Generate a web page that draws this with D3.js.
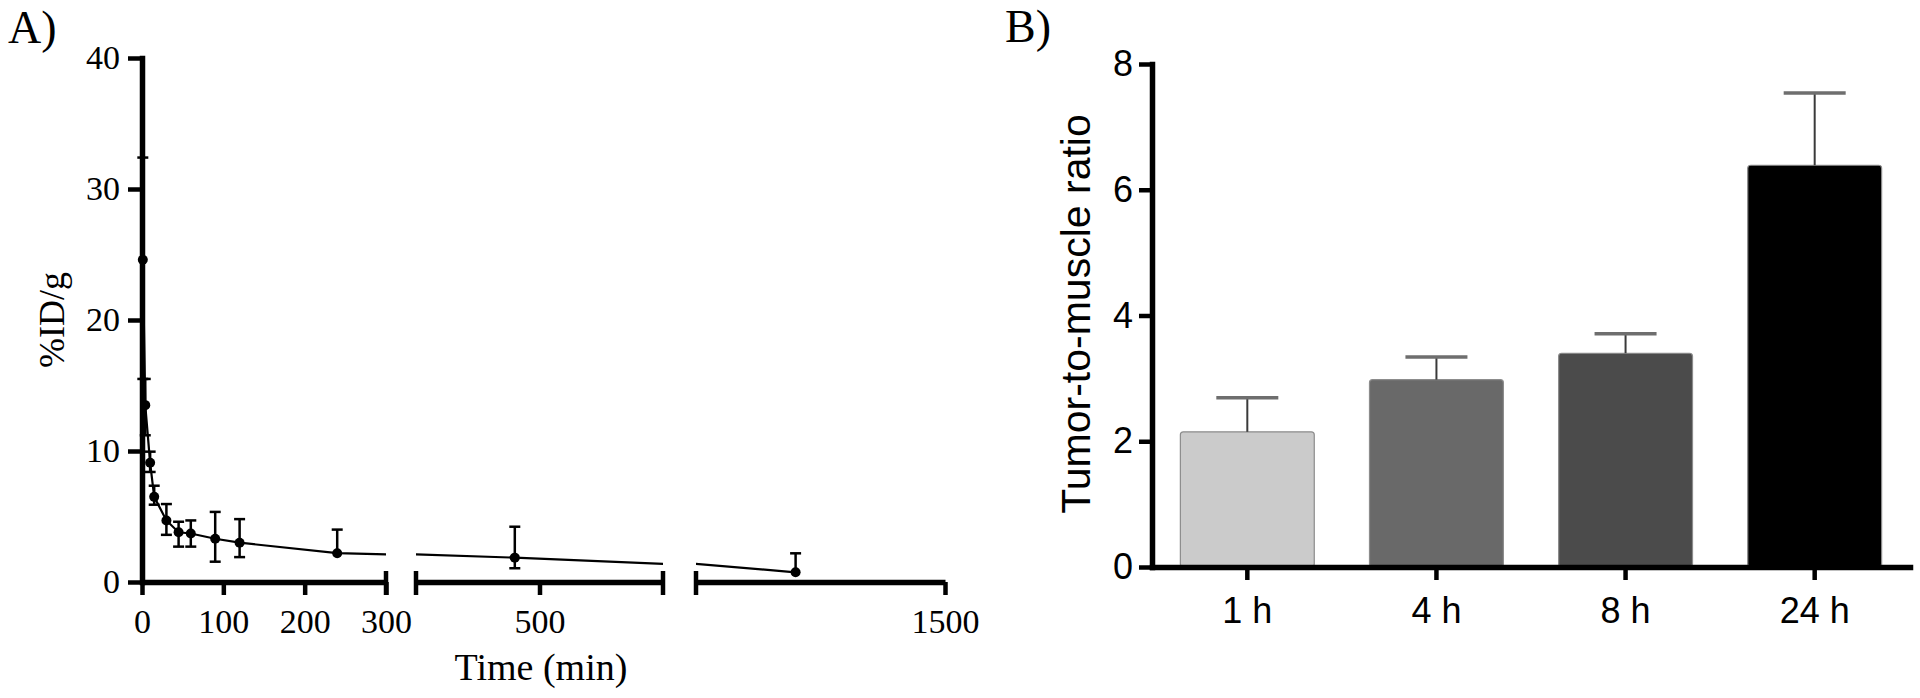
<!DOCTYPE html>
<html>
<head>
<meta charset="utf-8">
<script src="https://cdn.jsdelivr.net/npm/d3@7"></script>
<style>
  body { margin: 0; background: #fff; }
</style>
</head>
<body>
<svg id="chart" width="1920" height="698"></svg>
<script>
// A) blood activity over time
const timeMin = [1, 4, 10, 15, 30, 45, 60, 90, 120, 240, 460, 1020];
const idPerG = [24.6, 13.5, 9.1, 6.5, 4.7, 3.8, 3.7, 3.3, 3.0, 2.2, 1.86, 0.74];
const errUp = [7.8, 2.0, 0.85, 0.85, 1.25, 0.8, 1.0, 2.05, 1.8, 1.8, 2.36, 1.45];
const errDown = [9.1, 2.3, 0.7, 0.6, 1.1, 1.1, 1.0, 1.75, 1.1, 0, 0.81, 0];
const timeSegments = [[0, 300], [300, 700], [700, 1500]];
const timeTicks = [[0, 100, 200, 300], [500], [1500]];
const idTicks = [0, 10, 20, 30, 40];

// B) tumor-to-muscle ratio
const groups = ["1 h", "4 h", "8 h", "24 h"];
const ratio = [2.15, 2.98, 3.40, 6.39];
const ratioErr = [0.54, 0.36, 0.31, 1.15];
const ratioTicks = [0, 2, 4, 6, 8];

const svg = d3.select("#chart");
const serif = "'Liberation Serif', 'Times New Roman', serif";
const sans = "'Liberation Sans', Arial, sans-serif";

// style a d3 axis like the GraphPad thick axes
function thickAxis(g, font, size) {
  g.attr("font-family", font).attr("font-size", size);
  g.select(".domain").attr("stroke", "#000").attr("stroke-width", 5.5).attr("stroke-linecap", "square");
  g.selectAll(".tick line").attr("stroke", "#000").attr("stroke-width", 4.5);
  g.selectAll(".tick text").attr("fill", "#000");
}

/* ---------- panel A ---------- */
const a = svg.append("g");
const yA = d3.scaleLinear().domain([0, 40]).range([582, 58]);
const segRanges = [[142, 386], [416, 663], [696, 945]];
const xSegs = timeSegments.map((d, i) => d3.scaleLinear().domain(d).range(segRanges[i]));

const data = timeMin.map((t, i) => ({ t: t, v: idPerG[i], up: errUp[i], dn: errDown[i] }));

// which segment does a time fall in
function segOf(t) {
  for (let i = 0; i < timeSegments.length; i++) {
    if (t >= timeSegments[i][0] && t <= timeSegments[i][1]) return i;
  }
  return timeSegments.length - 1;
}

// line, drawn once per segment and clipped to it
xSegs.forEach(function (x, i) {
  const id = "clipA" + i;
  svg.append("clipPath").attr("id", id)
    .append("rect")
    .attr("x", segRanges[i][0]).attr("y", 0)
    .attr("width", segRanges[i][1] - segRanges[i][0]).attr("height", 698);
  a.append("path")
    .datum(data)
    .attr("clip-path", "url(#" + id + ")")
    .attr("fill", "none")
    .attr("stroke", "#000")
    .attr("stroke-width", 2.2)
    .attr("d", d3.line().x(d => x(d.t)).y(d => yA(d.v)));
});

// error bars (lower half left out where the picture shows none)
const eb = a.append("g").attr("stroke", "#000").attr("stroke-width", 2.5);
data.forEach(function (d) {
  const x = xSegs[segOf(d.t)](d.t);
  const hi = yA(d.v + d.up);
  const lo = yA(Math.max(0, d.v - d.dn));
  eb.append("line").attr("x1", x).attr("x2", x).attr("y1", hi).attr("y2", lo);
  eb.append("line").attr("x1", x - 5.5).attr("x2", x + 5.5).attr("y1", hi).attr("y2", hi);
  if (d.dn > 0) {
    eb.append("line").attr("x1", x - 5.5).attr("x2", x + 5.5).attr("y1", lo).attr("y2", lo);
  }
});

// points
a.append("g")
  .selectAll("circle")
  .data(data)
  .enter()
  .append("circle")
  .attr("cx", d => xSegs[segOf(d.t)](d.t))
  .attr("cy", d => yA(d.v))
  .attr("r", 5)
  .attr("fill", "#000");

// y axis
a.append("g")
  .attr("transform", "translate(142,0)")
  .call(d3.axisLeft(yA).tickValues(idTicks).tickSize(14).tickSizeOuter(0).tickPadding(8))
  .call(g => thickAxis(g, serif, 34));

// broken x axis
xSegs.forEach(function (x, i) {
  const g = a.append("g")
    .attr("transform", "translate(0,582)")
    .call(d3.axisBottom(x).tickValues(timeTicks[i]).tickFormat(d3.format("d"))
      .tickSize(13).tickSizeOuter(0).tickPadding(14))
    .call(g => thickAxis(g, serif, 34));
  g.select(".domain").attr("stroke-linecap", "butt");
  const ends = [];
  if (i > 0) ends.push(segRanges[i][0]);
  if (i < xSegs.length - 1) ends.push(segRanges[i][1]);
  ends.forEach(function (ex) {
    g.append("line").attr("x1", ex).attr("x2", ex).attr("y1", -11).attr("y2", 13)
      .attr("stroke", "#000").attr("stroke-width", 4.5);
  });
});

a.append("text")
  .attr("transform", "translate(64,320) rotate(-90)")
  .attr("text-anchor", "middle")
  .attr("font-family", serif).attr("font-size", 36)
  .text("%ID/g");

a.append("text")
  .attr("x", 541).attr("y", 680)
  .attr("text-anchor", "middle")
  .attr("font-family", serif).attr("font-size", 38)
  .text("Time (min)");

a.append("text")
  .attr("x", 8).attr("y", 43)
  .attr("font-family", serif).attr("font-size", 46)
  .text("A)");

/* ---------- panel B ---------- */
const b = svg.append("g");
const yB = d3.scaleLinear().domain([0, 8]).range([567, 64]);
const xB = d3.scaleBand().domain(groups).range([1152, 1910]).paddingInner(0.292).paddingOuter(0.15);
const fillB = d3.scaleOrdinal().domain(groups).range(["#cbcbcb", "#696969", "#4b4b4b", "#000000"]);

b.append("g")
  .selectAll("rect")
  .data(groups)
  .enter()
  .append("rect")
  .attr("x", d => xB(d))
  .attr("y", (d, i) => yB(ratio[i]))
  .attr("width", xB.bandwidth())
  .attr("height", (d, i) => yB(0) - yB(ratio[i]))
  .attr("rx", 3)
  .attr("fill", d => fillB(d))
  .attr("stroke", "#8c8c8c")
  .attr("stroke-width", 1.2);

// upper error bars only
groups.forEach(function (g, i) {
  const cx = xB(g) + xB.bandwidth() / 2;
  b.append("line")
    .attr("x1", cx).attr("x2", cx)
    .attr("y1", yB(ratio[i])).attr("y2", yB(ratio[i] + ratioErr[i]))
    .attr("stroke", "#3a3a3a").attr("stroke-width", 2);
  b.append("line")
    .attr("x1", cx - 31).attr("x2", cx + 31)
    .attr("y1", yB(ratio[i] + ratioErr[i])).attr("y2", yB(ratio[i] + ratioErr[i]))
    .attr("stroke", "#6e6e6e").attr("stroke-width", 3.5);
});

b.append("g")
  .attr("transform", "translate(1152,0)")
  .call(d3.axisLeft(yB).tickValues(ratioTicks).tickSize(13).tickSizeOuter(0).tickPadding(6))
  .call(g => thickAxis(g, sans, 36));

b.append("g")
  .attr("transform", "translate(0,567)")
  .call(d3.axisBottom(xB).tickSize(13).tickSizeOuter(0).tickPadding(17))
  .call(g => thickAxis(g, sans, 36));

b.append("text")
  .attr("transform", "translate(1090,314) rotate(-90)")
  .attr("text-anchor", "middle")
  .attr("font-family", sans).attr("font-size", 41)
  .text("Tumor-to-muscle ratio");

b.append("text")
  .attr("x", 1005).attr("y", 42)
  .attr("font-family", serif).attr("font-size", 46)
  .text("B)");
</script>
</body>
</html>
